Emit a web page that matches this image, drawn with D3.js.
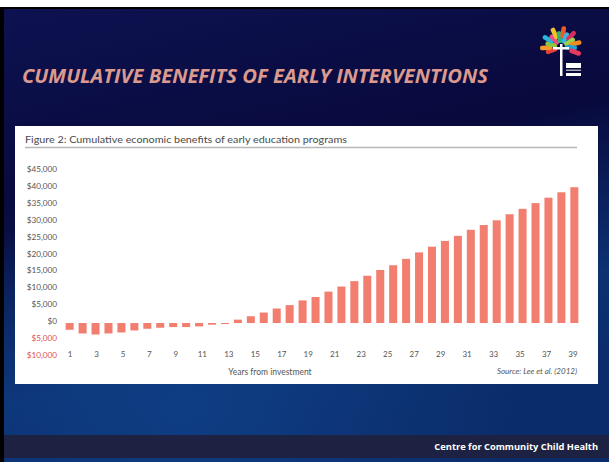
<!DOCTYPE html>
<html>
<head>
<meta charset="utf-8">
<script src="https://cdn.jsdelivr.net/npm/d3@7"></script>
<style>
  html, body { margin: 0; padding: 0; background: #fff; }
  svg { display: block; }
</style>
</head>
<body>
<script>
// Data
const years = d3.range(1, 41);
const benefits = [-2000, -3100, -3400, -3100, -2800, -2200, -1700, -1400, -1200, -1200,
                  -1000, -500, -300, 1000, 2000, 3100, 4300, 5300, 6700, 7700,
                  9300, 10800, 12400, 14000, 15700, 17100, 19000, 20900, 22600, 24300,
                  25800, 27600, 29000, 30400, 32200, 33800, 35500, 37100, 38700, 40200];
const yTicks = [45000, 40000, 35000, 30000, 25000, 20000, 15000, 10000, 5000, 0, -5000, -10000];
const xLabels = ["1", "3", "5", "7", "9", "11", "13", "15", "17", "19",
                 "21", "23", "25", "27", "29", "31", "33", "35", "37", "39"];

const width = 609, height = 462;
const svg = d3.select("body").append("svg").attr("width", width).attr("height", height);
const defs = svg.append("defs");

// Slide background
const bg = defs.append("linearGradient").attr("id", "bg").attr("x1", 0).attr("y1", 0).attr("x2", 0.3).attr("y2", 1);
bg.append("stop").attr("offset", "0%").attr("stop-color", "#0d1250");
bg.append("stop").attr("offset", "45%").attr("stop-color", "#08093c");
bg.append("stop").attr("offset", "80%").attr("stop-color", "#0c3272");
bg.append("stop").attr("offset", "100%").attr("stop-color", "#0b2c6a");
const glow = defs.append("radialGradient").attr("id", "glow").attr("cx", 0.3).attr("cy", 0.88).attr("r", 0.55);
glow.append("stop").attr("offset", "0%").attr("stop-color", "#0f3f86").attr("stop-opacity", 0.9);
glow.append("stop").attr("offset", "100%").attr("stop-color", "#0f3f86").attr("stop-opacity", 0);

svg.append("rect").attr("x", 0).attr("y", 7).attr("width", width).attr("height", height - 7).attr("fill", "#000");
svg.append("rect").attr("x", 4).attr("y", 9).attr("width", width - 4).attr("height", height - 9).attr("fill", "url(#bg)");
svg.append("rect").attr("x", 4).attr("y", 9).attr("width", width - 4).attr("height", height - 9).attr("fill", "url(#glow)");

// Title
svg.append("text")
  .attr("x", 22).attr("y", 83)
  .attr("textLength", 466).attr("lengthAdjust", "spacingAndGlyphs")
  .style("font-family", "'Open Sans', sans-serif").style("font-weight", 700).style("font-style", "italic")
  .style("font-size", "19px").style("fill", "#dc9a8e")
  .text("CUMULATIVE BENEFITS OF EARLY INTERVENTIONS");

// Logo (rough tree)
const logo = svg.append("g").attr("transform", "translate(561,47)");
const leafColors = ["#e8413c", "#f39a2b", "#8cc63f", "#29b6d8", "#e84d8a", "#f6c325", "#2bb673",
                    "#ef5a28", "#3bb4e6", "#d62f5e", "#9bd14b", "#f08a24", "#1fa3d6", "#e83a5c"];
leafColors.forEach((c, i) => {
  const a = -200 + i * (220 / (leafColors.length - 1));
  const r = i % 2 ? 9 : 4;
  logo.append("rect")
    .attr("x", r).attr("y", -2.3).attr("width", 12).attr("height", 4.6).attr("rx", 2)
    .attr("fill", c)
    .attr("transform", "rotate(" + a + ")");
});
logo.append("rect").attr("x", -1).attr("y", -3).attr("width", 2.5).attr("height", 32).attr("fill", "#fff");
logo.append("rect").attr("x", -8).attr("y", 0).attr("width", 16).attr("height", 2.5).attr("fill", "#fff");
logo.append("rect").attr("x", 5).attr("y", 16).attr("width", 15).attr("height", 5).attr("fill", "#fff");
logo.append("rect").attr("x", 5).attr("y", 22.5).attr("width", 15).attr("height", 1.5).attr("fill", "#aaa");
logo.append("rect").attr("x", 5).attr("y", 26).attr("width", 15).attr("height", 3).attr("fill", "#fff");

// Chart panel
svg.append("rect").attr("x", 15).attr("y", 126).attr("width", 583).attr("height", 258).attr("fill", "#fff");

svg.append("text")
  .attr("x", 25).attr("y", 143)
  .attr("textLength", 322).attr("lengthAdjust", "spacingAndGlyphs")
  .style("font-family", "Lato, sans-serif").style("font-size", "10px").style("fill", "#4a4a4a")
  .text("Figure 2: Cumulative economic benefits of early education programs");
svg.append("line").attr("x1", 25).attr("x2", 577).attr("y1", 147.5).attr("y2", 147.5)
  .attr("stroke", "#b8b8b8").attr("stroke-width", 1.6);

// Scales
const x = d3.scaleBand().domain(years).range([63.2, 580.8]).paddingInner(0.38).paddingOuter(0.19);
const y = d3.scaleLinear().domain([-10000, 45000]).range([356.8, 171]);
const xl = d3.scalePoint().domain(xLabels).range([69.5, 572.5]);

// Y axis labels
const yAxis = d3.axisLeft(y).tickValues(yTicks).tickSize(0).tickPadding(0)
  .tickFormat(d => "$" + d3.format(",")(Math.abs(d)));
const yg = svg.append("g").attr("transform", "translate(57,-2)").call(yAxis);
yg.select(".domain").remove();
yg.selectAll("text")
  .style("font-family", "Lato, sans-serif").style("font-size", "8.2px")
  .style("fill", d => d < 0 ? "#e0504e" : "#555");

// X axis labels
const xAxis = d3.axisBottom(xl).tickSize(0).tickPadding(0);
const xg = svg.append("g").attr("transform", "translate(0,351)").call(xAxis);
xg.select(".domain").remove();
xg.selectAll("text")
  .style("font-family", "Lato, sans-serif").style("font-size", "8px").style("fill", "#555");

// Bars
svg.append("g").selectAll("rect")
  .data(years)
  .join("rect")
  .attr("x", d => x(d))
  .attr("width", x.bandwidth())
  .attr("y", (d, i) => y(Math.max(0, benefits[i])))
  .attr("height", (d, i) => Math.abs(y(benefits[i]) - y(0)))
  .attr("fill", "#f27e70");

svg.append("text")
  .attr("x", 270).attr("y", 375).attr("text-anchor", "middle")
  .style("font-family", "Lato, sans-serif").style("font-size", "8.5px").style("fill", "#555")
  .text("Years from investment");
svg.append("text")
  .attr("x", 577).attr("y", 374).attr("text-anchor", "end")
  .style("font-family", "Lato, sans-serif").style("font-size", "8px").style("font-style", "italic").style("fill", "#555")
  .text("Source: Lee et al. (2012)");

// Footer
svg.append("rect").attr("x", 4).attr("y", 435).attr("width", width - 4).attr("height", 23).attr("fill", "#1d2242");
svg.append("text")
  .attr("x", 598).attr("y", 450).attr("text-anchor", "end")
  .style("font-family", "'Open Sans', sans-serif").style("font-weight", 700)
  .style("font-size", "9.3px").style("fill", "#fff")
  .text("Centre for Community Child Health");
</script>
</body>
</html>
